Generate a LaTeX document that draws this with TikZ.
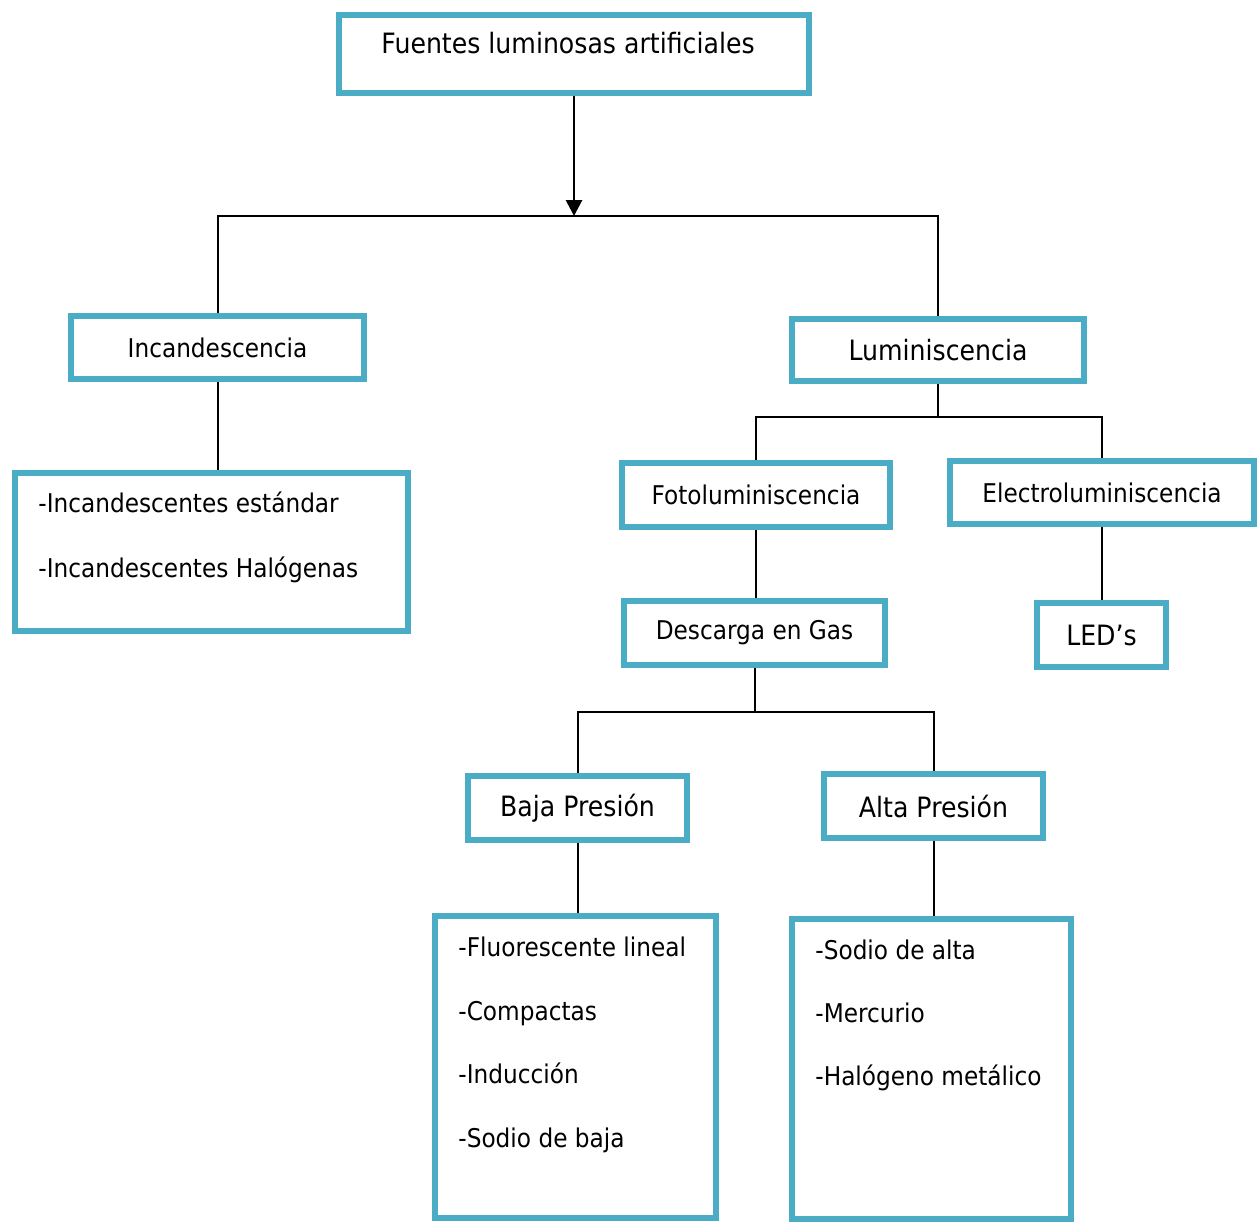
\documentclass[tikz,border=0pt]{standalone}
\usepackage{fontspec}
\setmainfont{DejaVu Sans}[FakeStretch=0.9]
\usetikzlibrary{arrows.meta}
\usepackage{xcolor}
\definecolor{boxblue}{RGB}{75,172,198}
\definecolor{linkblack}{RGB}{0,0,0}

\begin{document}
\begin{tikzpicture}[x=0.5pt,y=-0.5pt,
  box/.style={draw=boxblue,line width=3pt,fill=white,inner sep=0pt},
  bigtxt/.style={font=\fontsize{14}{16}\selectfont,text=black},
  smalltxt/.style={font=\fontsize{12.9}{15}\selectfont,text=black},
  itemtxt/.style={smalltxt,anchor=base west,inner sep=0pt},
  link/.style={draw=linkblack,line width=1pt}]

  % canvas, same size as the reference
  \useasboundingbox (0,0) rectangle (1257,1222);

  % ── TOP LEVEL ──────────────────────────────────────────────────────────────
  \node[box,minimum width=235pt,minimum height=39pt] (fuentes) at (574,54) {};
  \node[bigtxt,anchor=base,inner sep=0pt] (fuentestxt) at (568,53) {Fuentes luminosas artificiales};

  % ── SECOND LEVEL ──────────────────────────────────────────────────────────
  \node[box,smalltxt,minimum width=146.5pt,minimum height=31.5pt] (incand) at (217.5,347.5) {Incandescencia};
  \node[box,bigtxt,minimum width=146pt,minimum height=31pt] (lumin) at (938,350) {Luminiscencia};

  % list under Incandescencia
  \node[box,minimum width=196.5pt,minimum height=79pt] (incandlist) at (211.5,552) {};
  \node[itemtxt] (estandar) at (38,512) {-Incandescentes estándar};
  \node[itemtxt] (halogenas) at (38,577) {-Incandescentes Halógenas};

  % ── LUMINISCENCIA BRANCH ──────────────────────────────────────────────────
  \node[box,smalltxt,minimum width=134pt,minimum height=32pt] (foto) at (756,495) {Fotoluminiscencia};
  \node[box,smalltxt,minimum width=152pt,minimum height=31.5pt] (electro) at (1102,492.5) {Electroluminiscencia};
  \node[box,smalltxt,minimum width=130.5pt,minimum height=32pt] (descarga) at (754.5,633) {Descarga en Gas};
  \node[box,bigtxt,minimum width=64.5pt,minimum height=32pt] (leds) at (1101.5,635) {LED’s};

  % ── DESCARGA EN GAS ───────────────────────────────────────────────────────
  \node[box,bigtxt,minimum width=109.5pt,minimum height=32pt] (baja) at (577.5,808) {Baja Presión};
  \node[box,bigtxt,minimum width=109.5pt,minimum height=32pt] (alta) at (933.5,806) {Alta Presión};

  % lists under the two pressures
  \node[box,minimum width=140.5pt,minimum height=151pt] (bajalist) at (575.5,1067) {};
  \node[itemtxt] (fluor) at (458,956) {-Fluorescente lineal};
  \node[itemtxt] (compactas) at (458,1020) {-Compactas};
  \node[itemtxt] (induccion) at (458,1083) {-Inducción};
  \node[itemtxt] (sodiobaja) at (458,1147) {-Sodio de baja};

  \node[box,minimum width=139.5pt,minimum height=150pt] (altalist) at (931.5,1069) {};
  \node[itemtxt] (sodioalta) at (815,959) {-Sodio de alta};
  \node[itemtxt] (mercurio) at (815,1022) {-Mercurio};
  \node[itemtxt] (halmetal) at (815,1085) {-Halógeno metálico};

  % ── CONNECTORS ────────────────────────────────────────────────────────────
  \coordinate (bus1) at (574,216);
  \coordinate (bus2) at (937,417);
  \coordinate (bus3) at (755,712);

  \draw[link,line width=1.4pt,-{Triangle[length=8pt,width=8pt]}] (fuentes.south) -- (bus1);
  \draw[link] (incand.north) |- (bus1) -| (lumin.north);
  \draw[link] (incand.south) -- (incand.south |- incandlist.north);

  \draw[link] (lumin.south) -- (lumin.south |- bus2);
  \draw[link] (foto.north) |- (bus2) -| (electro.north);
  \draw[link] (foto.south) -- (foto.south |- descarga.north);
  \draw[link] (electro.south) -- (electro.south |- leds.north);

  \draw[link] (descarga.south) -- (descarga.south |- bus3);
  \draw[link] (baja.north) |- (bus3) -| (alta.north);
  \draw[link] (baja.south) -- (baja.south |- bajalist.north);
  \draw[link] (alta.south) -- (alta.south |- altalist.north);

\end{tikzpicture}
\end{document}
